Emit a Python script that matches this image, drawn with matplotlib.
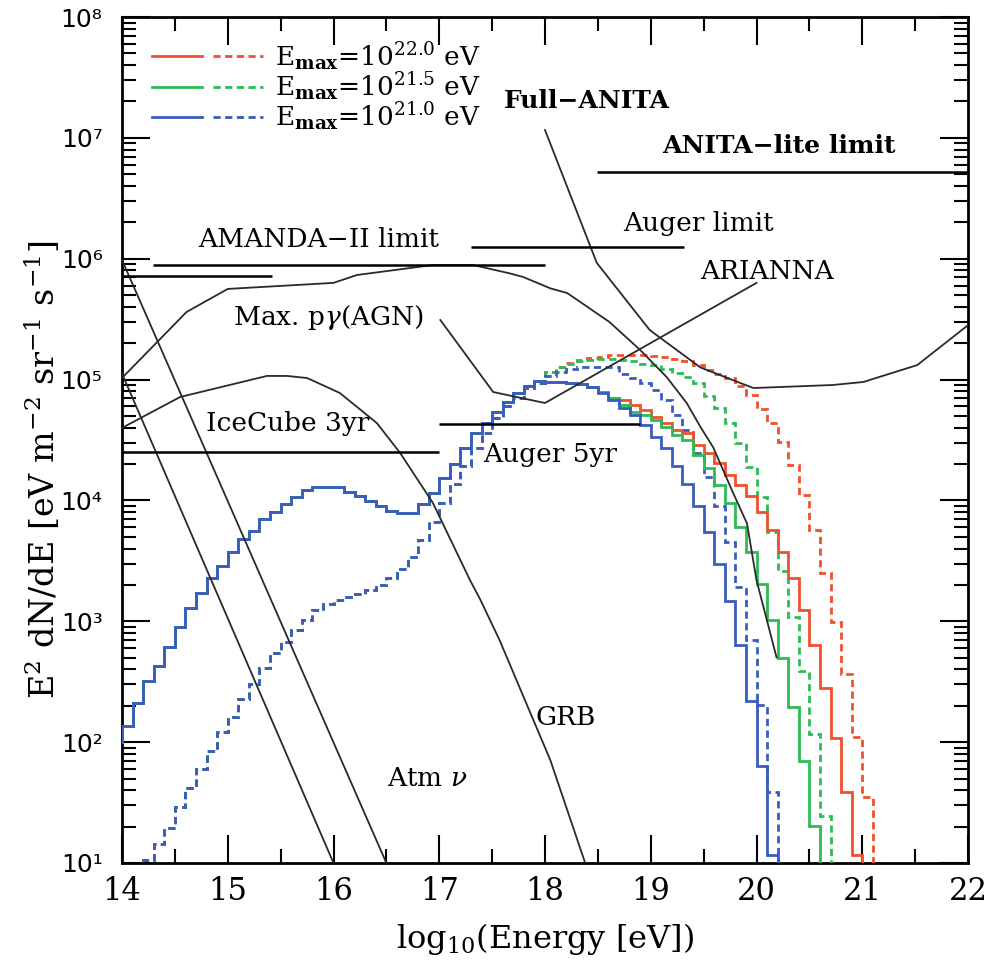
import numpy as np
import matplotlib
matplotlib.use("Agg")
import matplotlib.pyplot as plt
from matplotlib.lines import Line2D
from matplotlib.legend_handler import HandlerTuple
from matplotlib.ticker import MultipleLocator, LogLocator, FuncFormatter, NullFormatter, FixedLocator

plt.rcParams['font.family'] = ['DejaVu Serif']
plt.rcParams['mathtext.fontset'] = 'dejavuserif'

# ---------------- data (log10 of E^2 dN/dE in eV m^-2 sr^-1 s^-1) ----------------
bin_width = 0.1

# solid histograms: shared part, bins starting at 13.9 up to 18.4
solid_first_bin = 13.9
solid_shared_log = [2.0,
    2.136, 2.321, 2.506, 2.630, 2.785, 2.955, 3.113, 3.232, 3.356, 3.46,
    3.576, 3.678, 3.75, 3.844, 3.907, 3.97, 4.031, 4.086, 4.109, 4.109,
    4.109, 4.072, 4.037, 3.995, 3.954, 3.915, 3.894, 3.899, 3.968, 4.059,
    4.183, 4.301, 4.431, 4.556, 4.638, 4.734, 4.817, 4.891, 4.947, 4.988,
    4.983, 4.983, 4.969, 4.96, 4.941]
# tails, bins starting at 18.5
blue_solid_tail = [4.886, 4.831, 4.762, 4.707, 4.624, 4.527, 4.431, 4.285, 4.133, 3.955,
                   3.735, 3.472, 3.165, 2.804, 2.338, 1.80, 1.065, 0.0]
green_solid_tail = [4.90, 4.845, 4.79, 4.734, 4.707, 4.666, 4.605, 4.541, 4.50, 4.376,
                    4.266, 4.128, 3.976, 3.783, 3.572, 3.305, 3.013, 2.694, 2.294, 1.84,
                    1.307, 0.0]
red_solid_tail = [4.90, 4.85, 4.831, 4.79, 4.748, 4.693, 4.643, 4.583, 4.555, 4.459,
                  4.39, 4.307, 4.21, 4.128, 4.038, 3.907, 3.755, 3.576, 3.356, 3.094,
                  2.804, 2.446, 2.032, 1.586, 1.063, 0.0]

# dashed histograms: shared part, bins starting at 14.1 up to 17.9
dashed_first_bin = 14.1
dashed_shared_log = [0.9, 1.025, 1.16, 1.29, 1.463, 1.618, 1.776, 1.927, 2.082, 2.211,
    2.355, 2.479, 2.611, 2.735, 2.831, 2.928, 3.01, 3.094, 3.14, 3.176,
    3.204, 3.226, 3.259, 3.30, 3.356, 3.43, 3.535, 3.673, 3.824, 3.976,
    4.133, 4.287, 4.431, 4.555, 4.68, 4.78, 4.845, 4.928, 4.974]
# tails, bins starting at 18.0
blue_dashed_tail = [5.03, 5.06, 5.09, 5.10, 5.107, 5.107, 5.10, 5.05, 5.014, 4.969,
                    4.914, 4.831, 4.707, 4.583, 4.39, 4.197, 3.955, 3.654, 3.286, 2.845,
                    2.307, 1.585, 0.0]
green_dashed_tail = [5.06, 5.10, 5.13, 5.15, 5.16, 5.17, 5.17, 5.165, 5.15, 5.13,
                     5.12, 5.09, 5.052, 5.024, 4.97, 4.86, 4.762, 4.638, 4.472, 4.279,
                     4.03, 3.742, 3.419, 3.038, 2.585, 2.065, 1.389, 0.0]
red_dashed_tail = [5.06, 5.10, 5.14, 5.16, 5.18, 5.19, 5.20, 5.206, 5.206, 5.20,
                   5.195, 5.185, 5.17, 5.15, 5.12, 5.08, 5.05, 5.01, 4.95, 4.87,
                   4.754, 4.638, 4.486, 4.293, 4.045, 3.755, 3.397, 2.997, 2.56, 2.045,
                   1.549, 0.0]

# black model / sensitivity curves (log10 E, log10 flux)
agn_x = [14.0, 14.61, 15.0, 16.0, 16.22, 16.94, 17.32, 17.66, 17.79, 18.05, 18.21, 18.61,
         18.90, 19.15, 19.34, 19.47, 19.59, 19.78, 19.91, 20.0, 20.19]
agn_log = [5.013, 5.559, 5.75, 5.80, 5.865, 5.948, 5.948, 5.88, 5.85, 5.755, 5.716, 5.476,
           5.245, 5.021, 4.806, 4.608, 4.44, 4.06, 3.81, 3.34, 2.70]
grb_x = [14.0, 14.55, 15.37, 15.56, 15.75, 16.06, 16.41, 16.63, 16.94, 17.29, 17.39, 17.57,
         18.05, 18.38]
grb_log = [4.60, 4.856, 5.03, 5.03, 5.013, 4.889, 4.64, 4.393, 3.979, 3.342, 3.176, 2.845,
           1.852, 1.0]
full_anita_x = [18.0, 18.49, 18.99, 19.47, 19.97, 20.72, 21.01, 21.52, 22.0]
full_anita_log = [7.065, 5.965, 5.41, 5.10, 4.93, 4.955, 4.98, 5.12, 5.45]
arianna_x = [17.01, 17.51, 18.0, 20.0]
arianna_log = [5.493, 4.897, 4.806, 5.80]
atm_nu_low_x = [14.0, 16.0]
atm_nu_low_log = [5.05, 1.0]
atm_nu_high_x = [14.0, 16.5]
atm_nu_high_log = [5.99, 1.0]

# horizontal limits: (x_start, x_end, flux)
amanda_limit = (14.29, 18.0, 8.87e5)
amanda_short = (14.0, 15.42, 7.2e5)
auger_limit = (17.30, 19.31, 1.26e6)
anita_lite_limit = (18.49, 22.0, 5.19e6)
icecube_3yr = (14.0, 17.0, 2.5e4)
auger_5yr = (17.0, 18.9, 4.29e4)

legend_labels = [r"E$_{\mathbf{max}}$=10$^{22.0}$ eV",
                 r"E$_{\mathbf{max}}$=10$^{21.5}$ eV",
                 r"E$_{\mathbf{max}}$=10$^{21.0}$ eV"]
y_tick_exponents = [1, 2, 3, 4, 5, 6, 7, 8]

RED = '#f0502d'
GREEN = '#2dbb55'
BLUE = '#3a5cc0'
BLACK = '#2a2a2a'

# ---------------- figure ----------------
fig = plt.figure(figsize=(9.88, 9.69), dpi=100)
ax = fig.add_axes([122/988, 1-863/969, (968-122)/988, (863-17)/969])
ax.set_yscale('log')
ax.set_xlim(14, 22)
ax.set_ylim(10, 1e8)


def stairs(first, logs, color, ls, z):
    vals = 10.0 ** np.asarray(logs)
    edges = first + bin_width * np.arange(len(vals) + 1)
    ax.stairs(vals, edges, baseline=None, color=color, linestyle=ls, lw=2.0, zorder=z)


dash = (0, (2.6, 1.6))
# dashed
for tail, col, z in [(red_dashed_tail, RED, 3), (green_dashed_tail, GREEN, 3.1),
                     (blue_dashed_tail, BLUE, 3.2)]:
    stairs(dashed_first_bin, dashed_shared_log + tail, col, dash, z)
# solid
for tail, col, z in [(red_solid_tail, RED, 4), (green_solid_tail, GREEN, 4.1),
                     (blue_solid_tail, BLUE, 4.2)]:
    stairs(solid_first_bin, solid_shared_log + tail, col, '-', z)

# black curves
for xs, ls_ in [(agn_x, agn_log), (grb_x, grb_log), (full_anita_x, full_anita_log),
                (arianna_x, arianna_log), (atm_nu_low_x, atm_nu_low_log),
                (atm_nu_high_x, atm_nu_high_log)]:
    ax.plot(xs, 10.0 ** np.asarray(ls_), color=BLACK, lw=1.3, zorder=5)

for x0, x1, yv in [amanda_limit, amanda_short, auger_limit, anita_lite_limit,
                   icecube_3yr, auger_5yr]:
    ax.hlines(yv, x0, x1, color='black', lw=1.8, zorder=5)

# annotations
fs = 19
ax.text(15.86, 1.43e6, "AMANDA\u2212II limit", ha='center', va='center', fontsize=fs)
ax.text(18.40, 2.02e7, "Full\u2212ANITA", ha='center', va='center', fontsize=18, fontweight='bold')
ax.text(20.21, 8.57e6, "ANITA\u2212lite limit", ha='center', va='center', fontsize=18, fontweight='bold')
ax.text(19.45, 1.94e6, "Auger limit", ha='center', va='center', fontsize=fs)
ax.text(20.10, 7.9e5, "ARIANNA", ha='center', va='center', fontsize=fs)
ax.text(15.95, 3.24e5, r"Max. p$\gamma$(AGN)", ha='center', va='center', fontsize=fs)
ax.text(15.57, 4.29e4, "IceCube 3yr", ha='center', va='center', fontsize=fs)
ax.text(18.05, 2.38e4, "Auger 5yr", ha='center', va='center', fontsize=fs)
ax.text(18.20, 161, "GRB", ha='center', va='center', fontsize=fs)
ax.text(16.89, 50.5, r"Atm $\nu$", ha='center', va='center', fontsize=fs)

# legend
handles = []
for col in [RED, GREEN, BLUE]:
    handles.append((Line2D([], [], color=col, lw=2.0),
                    Line2D([], [], color=col, lw=2.0, linestyle=dash)))
ax.legend(handles, legend_labels, handler_map={tuple: HandlerTuple(ndivide=None, pad=0.45)},
          loc='upper left', bbox_to_anchor=(0.0355, 0.973), frameon=False, fontsize=19,
          handlelength=4.2, handletextpad=0.45, labelspacing=-0.08, borderaxespad=0,
          borderpad=0)

# ticks
ax.xaxis.set_major_locator(MultipleLocator(1))
ax.xaxis.set_minor_locator(MultipleLocator(0.5))
ax.yaxis.set_major_locator(FixedLocator([10.0 ** k for k in y_tick_exponents]))
ax.yaxis.set_minor_locator(LogLocator(base=10, subs=np.arange(2, 10), numticks=200))
ax.yaxis.set_minor_formatter(NullFormatter())
sup = str.maketrans("0123456789-", "\u2070\u00b9\u00b2\u00b3\u2074\u2075\u2076\u2077\u2078\u2079\u207b")
ax.yaxis.set_major_formatter(FuncFormatter(lambda v, p: "10" + str(int(round(np.log10(v)))).translate(sup)))
ax.tick_params(which='both', direction='in', top=True, right=True, width=1.5)
ax.tick_params(which='major', length=20)
ax.tick_params(which='minor', length=10)
ax.tick_params(axis='x', which='major', labelsize=22, pad=9)
ax.tick_params(axis='y', which='major', labelsize=18, pad=14)
for lab in ax.get_yticklabels():
    lab.set_fontfamily('DejaVu Sans')
for s in ax.spines.values():
    s.set_linewidth(2.0)

ax.set_xlabel(r"log$_{10}$(Energy [eV])", fontsize=23)
ax.set_ylabel(r"E$^2$ dN/dE [eV m$^{-2}$ sr$^{-1}$ s$^{-1}$]", fontsize=24)
ax.xaxis.set_label_coords(0.5, -0.069)
ax.yaxis.set_label_coords(-0.071, 0.4645)

fig.savefig("out.png", dpi=100)
